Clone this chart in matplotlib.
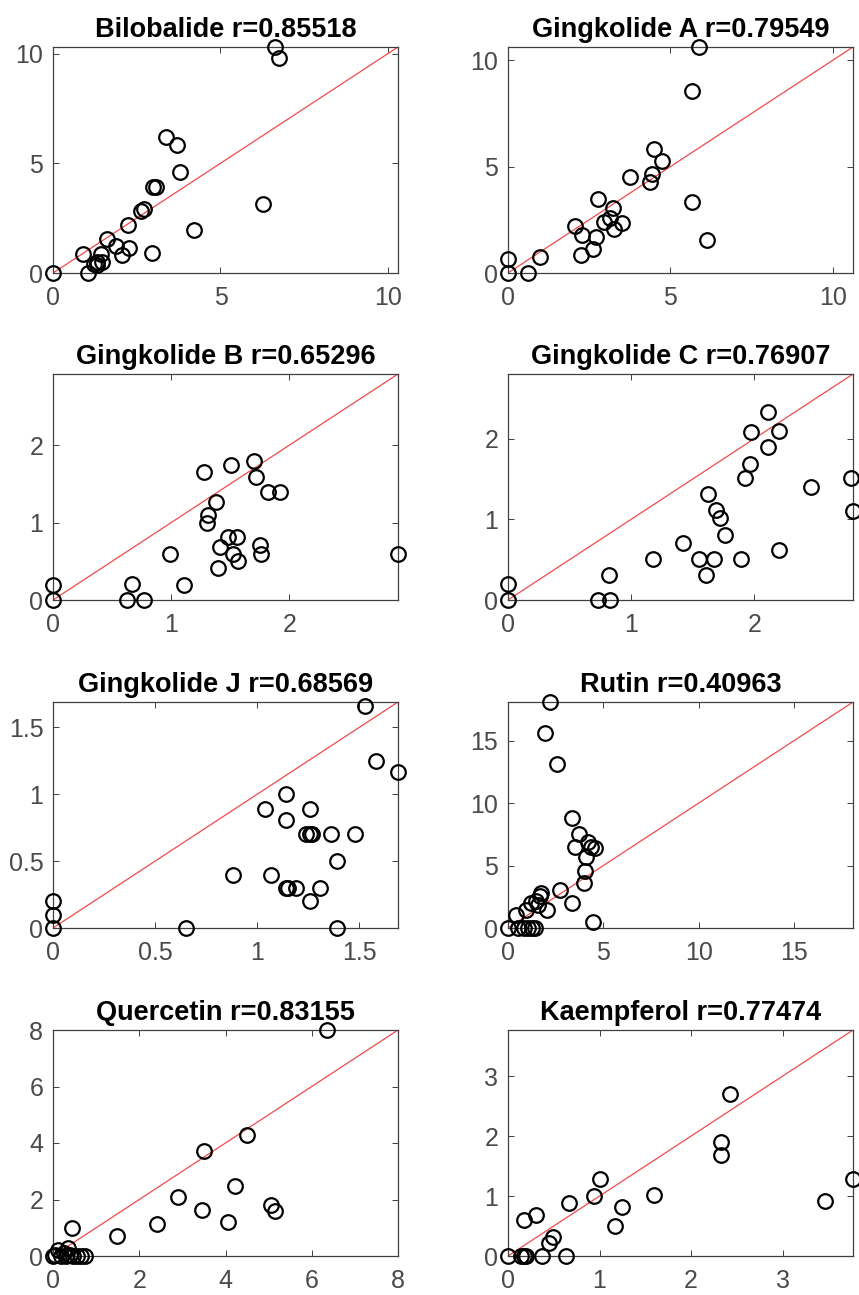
import matplotlib
matplotlib.use("Agg")
import matplotlib.pyplot as plt
import numpy as np

plt.rcParams["font.family"] = ["Liberation Sans", "DejaVu Sans"]

# ---- data: measured (x) vs. predicted (y) content per compound ----
names = ["Bilobalide", "Gingkolide A", "Gingkolide B", "Gingkolide C",
         "Gingkolide J", "Rutin", "Quercetin", "Kaempferol"]
r_values = ["0.85518", "0.79549", "0.65296", "0.76907",
            "0.68569", "0.40963", "0.83155", "0.77474"]

bilobalide_x = [0, 1.04, 0.90, 1.22, 1.30, 1.32, 1.47, 1.42, 1.62, 1.89, 2.07, 2.27,
                2.25, 2.62, 2.72, 2.95, 3.00, 3.08, 3.36, 3.70, 3.78, 4.20, 6.27,
                6.62, 6.75]
bilobalide_y = [0, 0, 0.86, 0.41, 0.35, 0.48, 0.48, 0.86, 1.55, 1.21, 0.82, 1.12,
                2.18, 2.83, 2.91, 0.91, 3.94, 3.94, 6.21, 5.83, 4.62, 1.97, 3.15,
                10.30, 9.82]

gka_x = [0, 0, 0.62, 1.00, 2.07, 2.28, 2.24, 2.62, 2.72, 2.77, 2.97, 3.13, 3.23,
         3.26, 3.52, 3.76, 4.38, 4.43, 4.48, 4.74, 5.66, 5.66, 5.87, 6.12]
gka_y = [0, 0.65, 0, 0.73, 2.23, 1.79, 0.83, 1.12, 1.67, 3.50, 2.41, 2.57, 3.04,
         2.06, 2.37, 4.49, 4.28, 4.64, 5.84, 5.25, 8.57, 3.32, 10.62, 1.53]

gkb_x = [0, 0, 0.63, 0.67, 0.77, 0.99, 1.11, 1.28, 1.30, 1.31, 1.38, 1.40, 1.41,
         1.48, 1.51, 1.52, 1.56, 1.57, 1.70, 1.72, 1.75, 1.76, 1.82, 1.92, 2.92]
gkb_y = [0, 0.20, 0, 0.21, 0, 0.60, 0.20, 1.66, 0.99, 1.10, 1.26, 0.41, 0.69,
         0.82, 1.75, 0.60, 0.81, 0.51, 1.79, 1.59, 0.71, 0.60, 1.40, 1.40, 0.60]

gkc_x = [0, 0, 0.73, 0.83, 0.82, 1.18, 1.42, 1.55, 1.61, 1.62, 1.67, 1.69, 1.72,
         1.76, 1.89, 1.92, 1.96, 1.97, 2.11, 2.11, 2.20, 2.20, 2.46, 2.78, 2.80]
gkc_y = [0, 0.20, 0, 0, 0.31, 0.51, 0.71, 0.51, 0.31, 1.31, 0.51, 1.11, 1.01,
         0.80, 0.51, 1.51, 1.68, 2.08, 1.90, 2.33, 2.10, 0.62, 1.40, 1.51, 1.10]

gkj_x = [0, 0, 0, 0.65, 0.88, 1.04, 1.07, 1.14, 1.14, 1.14, 1.15, 1.19, 1.24,
         1.26, 1.26, 1.26, 1.27, 1.31, 1.36, 1.39, 1.39, 1.48, 1.53, 1.58, 1.69]
gkj_y = [0, 0.10, 0.20, 0, 0.40, 0.89, 0.40, 1.00, 0.81, 0.30, 0.30, 0.30, 0.70,
         0.20, 0.89, 0.70, 0.70, 0.30, 0.70, 0.50, 0, 0.70, 1.66, 1.25, 1.17]

rutin_x = [0, 0.44, 0.52, 0.84, 1.05, 1.26, 1.40, 0.96, 1.22, 1.48, 1.57, 1.66,
           1.75, 2.06, 2.71, 3.35, 3.98, 4.05, 4.45, 4.10, 3.53, 3.70, 4.19, 4.36,
           4.54, 3.35, 2.58, 1.92, 2.18]
rutin_y = [0, 1.07, 0, 0, 0, 0, 0, 1.47, 2.00, 2.13, 1.87, 2.53, 2.80, 1.47, 3.07,
           2.00, 3.60, 4.60, 0.45, 5.70, 6.50, 7.50, 6.90, 6.50, 6.40, 8.80, 13.10,
           15.60, 18.10]

quercetin_x = [0, 0.05, 0.12, 0.18, 0.25, 0.30, 0.35, 0.40, 0.46, 0.55, 0.66,
               0.75, 0.45, 1.48, 2.42, 2.91, 3.45, 3.49, 4.06, 4.21, 4.50, 5.06,
               5.15, 6.36]
quercetin_y = [0, 0.05, 0.20, 0, 0.10, 0, 0.27, 0.05, 0, 0, 0, 0, 0.98, 0.70,
               1.13, 2.08, 1.63, 3.71, 1.21, 2.48, 4.30, 1.80, 1.60, 8.00]

kaempferol_x = [0, 0.14, 0.17, 0.20, 0.37, 0.63, 0.17, 0.31, 0.45, 0.49, 0.67,
                0.94, 1.01, 1.17, 1.25, 1.59, 2.33, 2.33, 2.43, 3.46, 3.77]
kaempferol_y = [0, 0, 0, 0, 0, 0, 0.60, 0.69, 0.21, 0.32, 0.88, 1.00, 1.29, 0.50,
                0.81, 1.01, 1.91, 1.68, 2.71, 0.91, 1.29]

xs = [bilobalide_x, gka_x, gkb_x, gkc_x, gkj_x, rutin_x, quercetin_x, kaempferol_x]
ys = [bilobalide_y, gka_y, gkb_y, gkc_y, gkj_y, rutin_y, quercetin_y, kaempferol_y]

tick_sets = [[0, 5, 10], [0, 5, 10], [0, 1, 2], [0, 1, 2],
             [0, 0.5, 1, 1.5], [0, 5, 10, 15], [0, 2, 4, 6, 8], [0, 1, 2, 3]]

# ---- figure layout (pixel based) ----
W, H = 859, 1295
fig = plt.figure(figsize=(W / 100, H / 100), dpi=100)
fig.patch.set_facecolor("white")

col_left = [53, 508]
ax_w = 345
row_top = [47, 374, 702, 1030]
ax_h = 226

axis_col = "#404040"

for i in range(8):
    r, c = divmod(i, 2)
    left = col_left[c] / W
    bottom = 1 - (row_top[r] + ax_h) / H
    ax = fig.add_axes([left, bottom, ax_w / W, ax_h / H])

    x = np.asarray(xs[i], dtype=float)
    y = np.asarray(ys[i], dtype=float)
    lim = max(x.max(), y.max())

    # identity line from the origin to the common axis limit
    ax.plot([0, lim], [0, lim], color="#f24a4a", lw=0.9, zorder=2)
    ax.plot(x, y, linestyle="none", marker="o", markersize=10.5,
            markerfacecolor="none", markeredgecolor="black",
            markeredgewidth=1.6, clip_on=False, zorder=3)

    ax.set_xlim(0, lim)
    ax.set_ylim(0, lim)
    ax.set_xticks(tick_sets[i])
    ax.set_yticks(tick_sets[i])
    ax.set_xticklabels([f"{t:g}" for t in tick_sets[i]])
    ax.set_yticklabels([f"{t:g}" for t in tick_sets[i]])

    ax.tick_params(direction="in", length=4, width=0.7, top=True, right=True,
                   colors=axis_col, labelsize=18, labelcolor="#4a4a4a")
    ax.tick_params(axis="x", pad=9)
    ax.tick_params(axis="y", pad=7)
    for s in ax.spines.values():
        s.set_color(axis_col)
        s.set_linewidth(0.9)

    ax.set_title(f"{names[i]} r={r_values[i]}", fontsize=19.5,
                 fontweight="bold", color="black", pad=7)

fig.savefig("out.png", dpi=100, facecolor="white")
